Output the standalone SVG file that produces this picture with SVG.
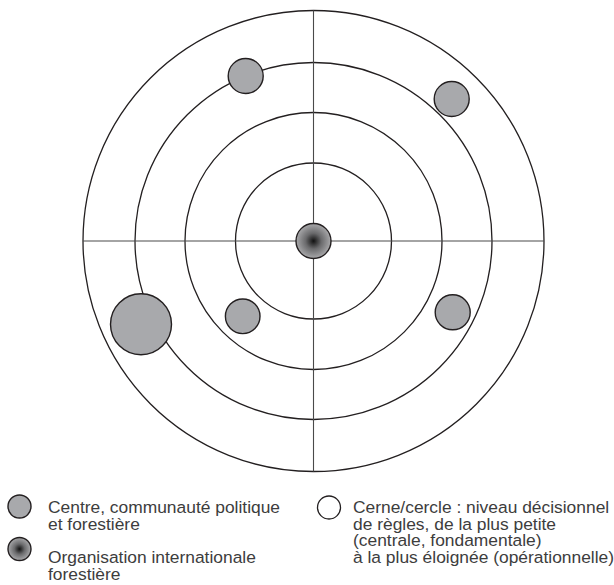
<svg xmlns="http://www.w3.org/2000/svg" width="614" height="585" viewBox="0 0 614 585">
<defs>
<radialGradient id="gOrg" cx="0.5" cy="0.5" r="0.5">
<stop offset="0" stop-color="#111"/>
<stop offset="0.45" stop-color="#6a6a6c"/>
<stop offset="1" stop-color="#a9a9ab"/>
</radialGradient>
<style>
.ring{fill:none;stroke:#231f20;stroke-width:1.3}
.axis{fill:none;stroke:#4a4a4a;stroke-width:1.1}
.node{fill:#a8a9ac;stroke:#231f20;stroke-width:1.4}
.org{fill:url(#gOrg);stroke:#231f20;stroke-width:1.4}
.leg{fill:#fff;stroke:#231f20;stroke-width:1.3}
.t{font-family:"Liberation Sans",Arial,Helvetica,sans-serif;font-size:17.4px;fill:#3d3d3d}
</style>
</defs>
<rect width="614" height="585" fill="#fff"/>
<g id="rings">
<circle class="ring" cx="313.5" cy="241" r="230.5"/>
<circle class="ring" cx="313.5" cy="241" r="178.5"/>
<circle class="ring" cx="313.5" cy="241" r="128.5"/>
<circle class="ring" cx="313.5" cy="241" r="78"/>
</g>
<g id="connectors">
<line class="axis" x1="313.5" y1="10.5" x2="313.5" y2="471.5"/>
<line class="axis" x1="83" y1="241" x2="544" y2="241"/>
</g>
<g id="node-center"><circle class="org" cx="313.5" cy="241" r="17.5"/></g>
<g id="node-top-left"><circle class="node" cx="245.7" cy="76" r="17.5"/></g>
<g id="node-top-right"><circle class="node" cx="451.7" cy="99" r="17.5"/></g>
<g id="node-bottom-right"><circle class="node" cx="452.7" cy="312.3" r="17.5"/></g>
<g id="node-inner-left"><circle class="node" cx="242.7" cy="316.3" r="17.3"/></g>
<g id="node-big"><circle class="node" cx="141" cy="324.3" r="30.5"/></g>
<g id="legend-centre">
<circle class="node" cx="19.5" cy="506.5" r="11.5"/>
<text class="t" x="48" y="513">Centre, communauté politique</text>
<text class="t" x="48" y="529.7">et forestière</text>
</g>
<g id="legend-org">
<circle class="org" cx="19.5" cy="549" r="11.5"/>
<text class="t" x="48" y="563">Organisation internationale</text>
<text class="t" x="48" y="579.7">forestière</text>
</g>
<g id="legend-cerne">
<circle class="leg" cx="329" cy="507.5" r="11.5"/>
<text class="t" x="353" y="513">Cerne/cercle : niveau décisionnel</text>
<text class="t" x="353" y="529.7">de règles, de la plus petite</text>
<text class="t" x="353" y="546.4">(centrale, fondamentale)</text>
<text class="t" x="353" y="563">à la plus éloignée (opérationnelle)</text>
</g>
</svg>
